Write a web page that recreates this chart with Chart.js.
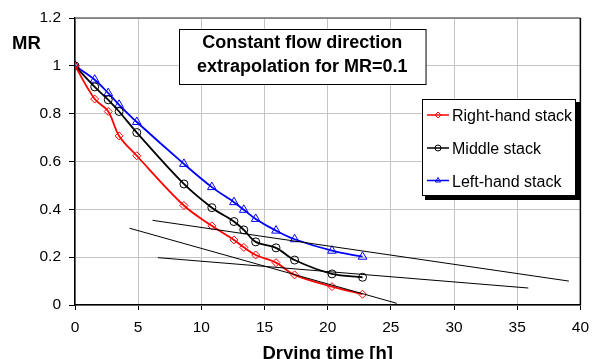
<!DOCTYPE html>
<html><head><meta charset="utf-8">
<script src="https://cdn.jsdelivr.net/npm/chart.js@4.4.1/dist/chart.umd.min.js"></script>
<style>html,body{margin:0;padding:0;background:#fff;overflow:hidden}#wrap{width:597px;height:359px;position:relative}</style>
</head><body><div id="wrap"><canvas id="c" width="597" height="359"></canvas></div>
<script>
// ---- data ----
const dryingTime = [0, 1.56, 2.63, 3.49, 4.89, 8.62, 10.83, 12.58, 13.36, 14.3, 15.91, 17.38, 20.34, 22.76];
const mrRight  = [1, 0.861, 0.809, 0.707, 0.624, 0.416, 0.331, 0.272, 0.241, 0.209, 0.177, 0.126, 0.077, 0.045];
const mrMiddle = [1, 0.912, 0.858, 0.809, 0.721, 0.506, 0.407, 0.349, 0.314, 0.264, 0.239, 0.188, 0.130, 0.116];
const mrLeft   = [1, 0.942, 0.886, 0.837, 0.765, 0.590, 0.493, 0.430, 0.398, 0.360, 0.311, 0.275, 0.227, 0.202];
const extrapRightX  = [4.32, 25.47];  const extrapRightY  = [0.321, 0.007];
const extrapMiddleX = [6.56, 35.88];  const extrapMiddleY = [0.198, 0.071];
const extrapLeftX   = [6.14, 39.09];  const extrapLeftY   = [0.354, 0.100];
const seriesNames = ['Right-hand stack', 'Middle stack', 'Left-hand stack'];
const xTickValues = [0, 5, 10, 15, 20, 25, 30, 35, 40];
const yTickValues = [0, 0.2, 0.4, 0.6, 0.8, 1, 1.2];
const titleLines = ['Constant flow direction', 'extrapolation for MR=0.1'];
const xAxisTitle = 'Drying time [h]';
const yAxisTitle = 'MR';

const FONT = '"Liberation Sans", Arial, sans-serif';
const toXY = (xs, ys) => xs.map((x, i) => ({x: x, y: ys[i]}));

const seriesStyles = [
  {color: '#ff0000', point: 'rectRot', r: 4},
  {color: '#000000', point: 'circle', r: 4},
  {color: '#0000ff', point: 'triangle', r: 5}
];
const seriesData = [mrRight, mrMiddle, mrLeft];

const datasets = [];
[[extrapRightX, extrapRightY], [extrapMiddleX, extrapMiddleY], [extrapLeftX, extrapLeftY]].forEach(([xs, ys]) => {
  datasets.push({data: toXY(xs, ys), borderColor: '#000', borderWidth: 1, pointRadius: 0, tension: 0, fill: false});
});
seriesData.forEach((ys, i) => {
  const s = seriesStyles[i];
  datasets.push({
    label: seriesNames[i], data: toXY(dryingTime, ys),
    borderColor: s.color, borderWidth: 1.8, tension: 0.35, fill: false,
    pointStyle: s.point, pointRadius: s.r, pointBorderWidth: 1,
    pointBorderColor: s.color, pointBackgroundColor: 'rgba(0,0,0,0)'
  });
});

function marker(ctx, style, x, y, r, color) {
  ctx.save(); ctx.strokeStyle = color; ctx.lineWidth = 1; ctx.beginPath();
  if (style === 'circle') ctx.arc(x, y, r, 0, Math.PI * 2);
  else if (style === 'rectRot') { ctx.moveTo(x, y - r); ctx.lineTo(x + r, y); ctx.lineTo(x, y + r); ctx.lineTo(x - r, y); ctx.closePath(); }
  else { ctx.moveTo(x, y - r); ctx.lineTo(x + r * 0.866, y + r * 0.5); ctx.lineTo(x - r * 0.866, y + r * 0.5); ctx.closePath(); }
  ctx.stroke(); ctx.restore();
}

const decor = {
  id: 'decor',
  afterDraw(chart) {
    const ctx = chart.ctx, a = chart.chartArea;
    ctx.save();
    // top and right frame
    ctx.strokeStyle = '#6e6e6e'; ctx.lineWidth = 1.5;
    ctx.beginPath(); ctx.moveTo(a.left, a.top); ctx.lineTo(a.right, a.top); ctx.stroke();
    ctx.strokeStyle = '#000'; ctx.lineWidth = 1.5;
    ctx.beginPath(); ctx.moveTo(a.right, a.top); ctx.lineTo(a.right, a.bottom); ctx.stroke();

    // axis titles
    ctx.fillStyle = '#000';
    ctx.font = 'bold 18.5px ' + FONT;
    ctx.textAlign = 'left'; ctx.textBaseline = 'alphabetic';
    ctx.fillText(yAxisTitle, 12, 49);
    ctx.textAlign = 'center';
    ctx.fillText(xAxisTitle, (a.left + a.right) / 2, 358.5);

    // title box
    ctx.font = 'bold 18px ' + FONT;
    const tw = Math.max(...titleLines.map(t => ctx.measureText(t).width));
    const bx = 179, by = 29, bw = tw + 36, bh = 55;
    ctx.fillStyle = '#fff'; ctx.fillRect(bx, by, bw, bh);
    ctx.strokeStyle = '#000'; ctx.lineWidth = 1;
    ctx.strokeRect(bx + 0.5, by + 0.5, bw, bh);
    ctx.fillStyle = '#000'; ctx.textAlign = 'center';
    ctx.fillText(titleLines[0], bx + bw / 2, 48);
    ctx.fillText(titleLines[1], bx + bw / 2, 72);

    // legend
    const lx = 422, ly = 99, lw = 154, lh = 97;
    ctx.fillStyle = '#000'; ctx.fillRect(lx + 3, ly + 3, lw + 1, lh + 1);
    ctx.fillStyle = '#fff'; ctx.fillRect(lx, ly, lw, lh);
    ctx.strokeStyle = '#000'; ctx.lineWidth = 1;
    ctx.strokeRect(lx + 0.5, ly + 0.5, lw - 1, lh - 1);
    ctx.font = '16px ' + FONT; ctx.textAlign = 'left';
    const rowY = [115, 148, 180.5];
    seriesNames.forEach((name, i) => {
      const s = seriesStyles[i], y = rowY[i];
      ctx.strokeStyle = s.color; ctx.lineWidth = 1.5;
      ctx.beginPath(); ctx.moveTo(427, y); ctx.lineTo(449, y); ctx.stroke();
      marker(ctx, s.point, 438, y, 3, s.color);
      ctx.fillStyle = '#000';
      ctx.fillText(name, 452, y + 6);
    });
    ctx.restore();
  }
};

new Chart(document.getElementById('c'), {
  type: 'line',
  data: {datasets: datasets},
  options: {
    responsive: false, animation: false, devicePixelRatio: 1,
    layout: {padding: {top: 18, right: 10, left: 0, bottom: 0}},
    plugins: {legend: {display: false}, tooltip: {enabled: false}},
    scales: {
      x: {
        type: 'linear', min: 0, max: 40,
        afterFit: s => { s.height = 54; },
        afterBuildTicks: s => { s.ticks = xTickValues.map(v => ({value: v})); },
        ticks: {color: '#000', font: {family: FONT, size: 15.5}, padding: 8, maxRotation: 0, callback: v => String(v)},
        grid: {color: '#c4c4c4', lineWidth: 1, tickColor: '#000', tickLength: 5},
        border: {color: '#000', width: 1.5}
      },
      y: {
        type: 'linear', min: 0, max: 1.2,
        afterFit: s => { s.width = 75; },
        afterBuildTicks: s => { s.ticks = yTickValues.map(v => ({value: v})); },
        ticks: {color: '#000', font: {family: FONT, size: 15.5}, padding: 8, callback: v => String(v)},
        grid: {color: '#c4c4c4', lineWidth: 1, tickColor: '#000', tickLength: 6},
        border: {color: '#000', width: 1.5}
      }
    }
  },
  plugins: [decor]
});
</script></body></html>
